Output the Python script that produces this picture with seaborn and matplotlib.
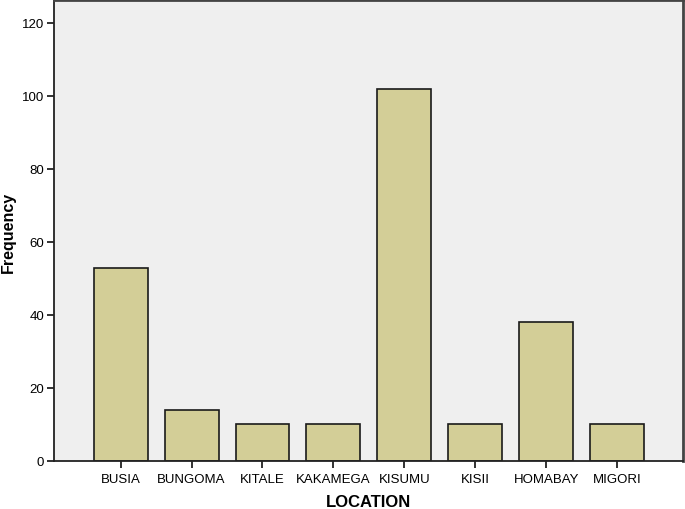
import matplotlib
matplotlib.use("Agg")
import matplotlib.pyplot as plt
import seaborn as sns
import pandas as pd

locations = ["BUSIA", "BUNGOMA", "KITALE", "KAKAMEGA", "KISUMU", "KISII", "HOMABAY", "MIGORI"]
frequency = [53, 14, 10, 10, 102, 10, 38, 10]
yticks = [0, 20, 40, 60, 80, 100, 120]

sns.set_style("white")
plt.rcParams['font.family'] = ['Liberation Sans', 'DejaVu Sans']

df = pd.DataFrame({"LOCATION": locations, "Frequency": frequency})

fig = plt.figure(figsize=(6.85, 5.10), dpi=100)
ax = fig.add_axes([54/685, 48/510, 629/685, 461/510])
ax.set_facecolor("#efefef")

sns.barplot(data=df, x="LOCATION", y="Frequency", color="#d3ce97", saturation=1,
            width=0.76, edgecolor="#1a1a1a", linewidth=1.2, ax=ax)

ax.set_ylim(0, 126.3)
ax.set_xlim(-0.94, 7.93)
ax.set_yticks(yticks)
ax.set_yticklabels([str(v) for v in yticks])
ax.tick_params(axis="both", direction="out", length=5, width=1.3, color="#222222",
               labelsize=9.5, labelcolor="#000000", bottom=True, left=True)
ax.tick_params(axis="y", pad=2)
ax.tick_params(axis="x", pad=4)
ax.set_xlabel("LOCATION", fontsize=12, fontweight="bold", color="#000000")
ax.set_ylabel("Frequency", fontsize=11.5, fontweight="bold", color="#000000")
ax.xaxis.set_label_coords(0.5, -0.071, transform=ax.transAxes)
ax.yaxis.set_label_coords(16/685, 0.545, transform=fig.transFigure)

for side in ["left", "bottom"]:
    ax.spines[side].set_color("#222222")
    ax.spines[side].set_linewidth(1.3)
for side in ["top", "right"]:
    ax.spines[side].set_visible(True)
    ax.spines[side].set_color("#444444")
    ax.spines[side].set_linewidth(2.0)

fig.savefig("out.png", dpi=100, facecolor="white")
